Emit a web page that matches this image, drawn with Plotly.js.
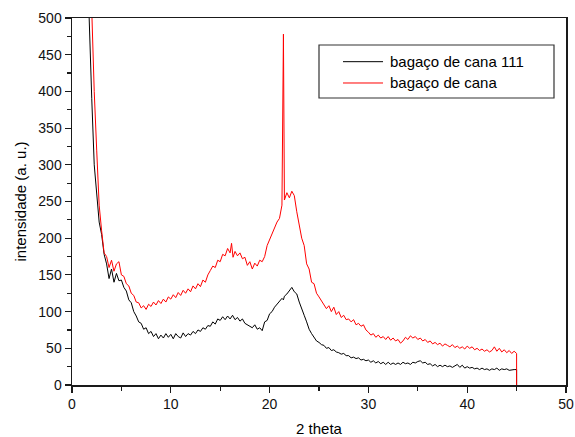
<!DOCTYPE html>
<html>
<head>
<meta charset="utf-8">
<script src="https://cdn.plot.ly/plotly-3.0.1.min.js"></script>
<style>html,body{margin:0;padding:0;background:#fff;}#chart{width:575px;height:437px;}</style>
</head>
<body>
<div id="chart"></div>
<script>
// [2theta, intensity]
const bagaco111 = [[1.5,600],[1.75,485],[2.0,390],[2.25,300],[2.5,262],[2.75,222],[3.0,205],[3.25,178],[3.5,165],[3.75,145],[4.0,158],[4.25,140],[4.5,152],[4.75,142],[5.0,143],[5.25,133],[5.5,128],[5.75,116],[6.0,112],[6.25,100],[6.5,94],[6.75,86],[7.0,84],[7.25,76],[7.5,78],[7.75,70],[8.0,73],[8.25,66],[8.5,70],[8.75,63],[9.0,68],[9.25,64],[9.5,70],[9.75,65],[10.0,69],[10.25,63],[10.5,70],[10.75,66],[11.0,64],[11.25,71],[11.5,66],[11.75,70],[12.0,68],[12.25,73],[12.5,70],[12.75,75],[13.0,73],[13.25,78],[13.5,76],[13.75,81],[14.0,80],[14.25,86],[14.5,83],[14.75,90],[15.0,88],[15.25,93],[15.5,89],[15.75,94],[16.0,90],[16.25,95],[16.5,89],[16.75,92],[17.0,87],[17.25,90],[17.5,84],[17.75,82],[18.0,80],[18.25,78],[18.5,82],[18.75,76],[19.0,78],[19.25,74],[19.5,86],[19.75,88],[20.0,97],[20.25,100],[20.5,106],[20.75,110],[21.0,114],[21.25,118],[21.4,116],[21.5,121],[21.75,124],[22.0,129],[22.25,133],[22.5,127],[22.75,124],[23.0,113],[23.25,105],[23.5,95],[23.75,86],[24.0,76],[24.25,70],[24.5,65],[24.75,60],[25.0,58],[25.25,55],[25.5,54],[25.75,50],[26.0,51],[26.25,47],[26.5,48],[26.75,45],[27.0,44],[27.25,42],[27.5,43],[27.75,40],[28.0,40],[28.25,37],[28.5,38],[28.75,36],[29.0,37],[29.25,34],[29.5,35],[29.75,33],[30.0,34],[30.25,31],[30.5,33],[30.75,30],[31.0,32],[31.25,29],[31.5,31],[31.75,28],[32.0,31],[32.25,28],[32.5,30],[32.75,28],[33.0,30],[33.25,28],[33.5,31],[33.75,29],[34.0,30],[34.25,28],[34.5,31],[34.75,30],[35.0,32],[35.25,33],[35.5,30],[35.75,31],[36.0,28],[36.25,29],[36.5,26],[36.75,28],[37.0,25],[37.25,27],[37.5,25],[37.75,27],[38.0,25],[38.25,26],[38.5,24],[38.75,26],[39.0,28],[39.25,24],[39.5,27],[39.75,23],[40.0,25],[40.25,23],[40.5,24],[40.75,22],[41.0,23],[41.25,21],[41.5,23],[41.75,21],[42.0,22],[42.25,20],[42.5,22],[42.75,21],[43.0,23],[43.25,20],[43.5,22],[43.75,21],[44.0,22],[44.25,20],[44.5,21],[44.75,21],[45.0,21],[45.0,0]];

const bagaco = [[1.75,620],[2.0,500],[2.25,400],[2.5,320],[2.75,245],[3.0,210],[3.25,180],[3.5,175],[3.75,160],[4.0,170],[4.25,155],[4.5,165],[4.75,168],[5.0,150],[5.25,148],[5.5,138],[5.75,135],[6.0,125],[6.25,122],[6.5,113],[6.75,112],[7.0,105],[7.25,108],[7.5,103],[7.75,110],[8.0,107],[8.25,113],[8.5,109],[8.75,115],[9.0,111],[9.25,117],[9.5,113],[9.75,120],[10.0,117],[10.25,123],[10.5,119],[10.75,126],[11.0,122],[11.25,129],[11.5,125],[11.75,131],[12.0,127],[12.25,135],[12.5,131],[12.75,138],[13.0,134],[13.25,143],[13.5,140],[13.75,150],[14.0,156],[14.25,162],[14.5,160],[14.75,170],[15.0,168],[15.25,178],[15.5,176],[15.75,186],[16.0,180],[16.15,193],[16.3,174],[16.5,182],[16.75,176],[17.0,180],[17.25,172],[17.5,174],[17.75,163],[18.0,168],[18.25,158],[18.5,166],[18.75,162],[19.0,170],[19.25,168],[19.5,175],[19.75,190],[20.0,198],[20.25,206],[20.5,212],[20.75,222],[21.0,227],[21.25,245],[21.4,478],[21.5,252],[21.75,262],[22.0,255],[22.25,264],[22.5,258],[22.75,236],[23.0,218],[23.25,200],[23.5,190],[23.75,165],[24.0,158],[24.25,140],[24.5,138],[24.75,125],[25.0,120],[25.25,114],[25.5,110],[25.75,104],[26.0,108],[26.25,100],[26.5,106],[26.75,96],[27.0,100],[27.25,92],[27.5,95],[27.75,89],[28.0,90],[28.25,86],[28.5,89],[28.75,82],[29.0,84],[29.25,80],[29.5,82],[29.75,75],[30.0,72],[30.25,68],[30.5,70],[30.75,65],[31.0,68],[31.25,64],[31.5,66],[31.75,62],[32.0,66],[32.25,61],[32.5,64],[32.75,60],[33.0,62],[33.25,57],[33.5,60],[33.75,65],[34.0,62],[34.25,67],[34.5,64],[34.75,66],[35.0,62],[35.25,64],[35.5,60],[35.75,62],[36.0,58],[36.25,60],[36.5,56],[36.75,58],[37.0,55],[37.25,57],[37.5,53],[37.75,56],[38.0,54],[38.25,52],[38.5,55],[38.75,51],[39.0,53],[39.25,50],[39.5,52],[39.75,49],[40.0,53],[40.25,50],[40.5,52],[40.75,48],[41.0,50],[41.25,47],[41.5,49],[41.75,46],[42.0,48],[42.25,45],[42.5,47],[42.75,52],[43.0,46],[43.25,50],[43.5,45],[43.75,48],[44.0,44],[44.25,47],[44.5,43],[44.75,46],[45.0,43],[45.0,0]];

const seriesNames = ["bagaço de cana 111", "bagaço de cana"];
const seriesColors = ["#000000", "#ff0000"];
const xTickVals = [0, 10, 20, 30, 40, 50];
const yTickVals = [0, 50, 100, 150, 200, 250, 300, 350, 400, 450, 500];

const FONT = "Liberation Sans, Arial, sans-serif";

const traces = [bagaco111, bagaco].map((pts, i) => ({
  type: "scatter",
  mode: "lines",
  x: pts.map(p => p[0]),
  y: pts.map(p => p[1]),
  name: seriesNames[i],
  line: {color: seriesColors[i], width: 1},
  showlegend: false
}));

const axisCommon = {
  showgrid: false, zeroline: false,
  showline: true, linecolor: "#1a1a1a", linewidth: 1.5, mirror: true,
  ticks: "outside", ticklen: 6, tickwidth: 1.2, tickcolor: "#1a1a1a",
  tickfont: {family: FONT, size: 14, color: "#111"}
};

// manual legend box (positions in paper coords)
const legX0 = 0.5, legX1 = 0.9757, legY0 = 0.782, legY1 = 0.9264;
const legRowY = [0.881, 0.8229];
const legLineX = [0.5486, 0.6296];
const legTextX = 0.6397;

const shapes = [{
  type: "rect", xref: "paper", yref: "paper",
  x0: legX0, x1: legX1, y0: legY0, y1: legY1,
  line: {color: "#333", width: 1.2}, fillcolor: "#ffffff"
}];
const annotations = [];
seriesNames.forEach((n, i) => {
  shapes.push({type: "line", xref: "paper", yref: "paper",
    x0: legLineX[0], x1: legLineX[1], y0: legRowY[i], y1: legRowY[i],
    line: {color: seriesColors[i], width: 1}});
  annotations.push({xref: "paper", yref: "paper", x: legTextX, y: legRowY[i],
    xanchor: "left", yanchor: "middle", showarrow: false, text: n,
    font: {family: FONT, size: 15, color: "#000"}});
});

const layout = {
  width: 575, height: 437,
  margin: {l: 72, r: 9, t: 18, b: 52},
  paper_bgcolor: "#fff", plot_bgcolor: "#fff",
  showlegend: false,
  font: {family: FONT, color: "#000"},
  xaxis: Object.assign({}, axisCommon, {
    range: [0, 50], tickvals: xTickVals, ticktext: xTickVals.map(String),
    minor: {dtick: 5, ticks: "outside", ticklen: 4, tickwidth: 1.2, tickcolor: "#1a1a1a"},
    title: {text: "2 theta", font: {family: FONT, size: 15, color: "#000"}, standoff: 14}
  }),
  yaxis: Object.assign({}, axisCommon, {
    range: [0, 500], tickvals: yTickVals, ticktext: yTickVals.map(String),
    minor: {dtick: 25, ticks: "outside", ticklen: 4, tickwidth: 1.2, tickcolor: "#1a1a1a"},
    title: {text: "intensidade (a. u.)", font: {family: FONT, size: 15, color: "#000"}, standoff: 8}
  }),
  shapes: shapes,
  annotations: annotations
};

Plotly.newPlot("chart", traces, layout, {displayModeBar: false, staticPlot: true});
</script>
</body>
</html>
